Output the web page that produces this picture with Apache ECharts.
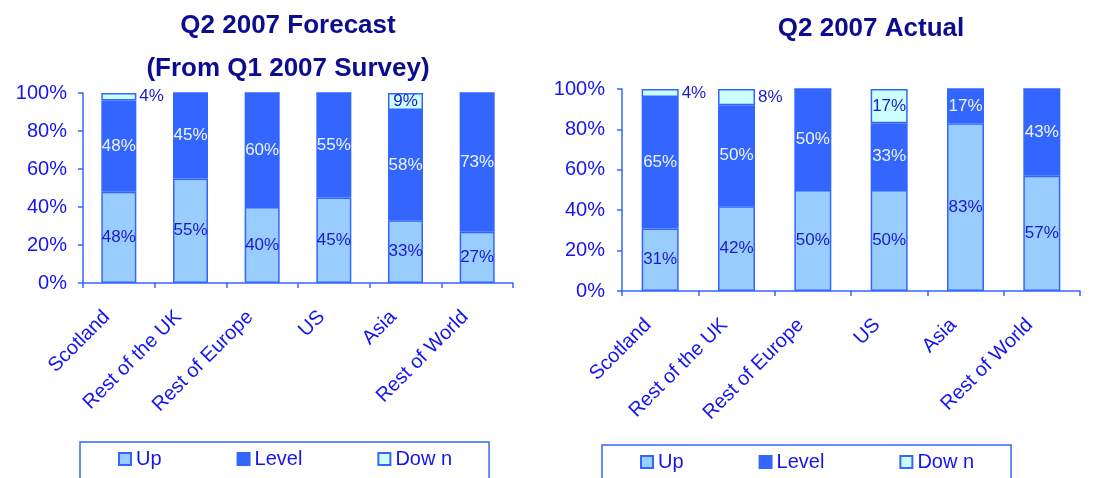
<!DOCTYPE html>
<html>
<head>
<meta charset="utf-8">
<script src="https://cdn.jsdelivr.net/npm/echarts@6/dist/echarts.min.js"></script>
<style>
  html, body { margin: 0; padding: 0; background: #ffffff; }
  #chart { width: 1101px; height: 478px; }
</style>
</head>
<body>
<div id="chart"></div>
<script>
// Regions surveyed
const categories = ['Scotland', 'Rest of the UK', 'Rest of Europe', 'US', 'Asia', 'Rest of World'];
const yTicks = [0, 20, 40, 60, 80, 100];

// Q2 2007 forecast (from the Q1 2007 survey), % of respondents
const forecastUp    = [48, 55, 40, 45, 33, 27];
const forecastLevel = [48, 45, 60, 55, 58, 73];
const forecastDown  = [4, 0, 0, 0, 9, 0];

// Q2 2007 actual outcome, % of respondents
const actualUp    = [31, 42, 50, 50, 83, 57];
const actualLevel = [65, 50, 50, 33, 17, 43];
const actualDown  = [4, 8, 0, 17, 0, 0];

const seriesNames = ['Up', 'Level', 'Dow n'];

const FONT = "'Liberation Sans', Arial, sans-serif";
const AXIS_BLUE = '#3366ff';
const TEXT_BLUE = '#1414f0';
const DARK_LABEL = '#1a1ac8';
const COLORS = { up: '#99ccff', level: '#3366ff', down: '#ccffff' };

function pct(p) { return p.value ? p.value + '%' : ''; }

function barSeries(name, values, idx, stack, color, labelColor, barWidth, outsideSmall) {
  return {
    name: name,
    type: 'bar',
    stack: stack,
    xAxisIndex: idx,
    yAxisIndex: idx,
    barWidth: barWidth,
    itemStyle: { color: color, borderColor: AXIS_BLUE, borderWidth: 1.5 },
    label: {
      show: true,
      position: 'inside',
      formatter: pct,
      color: labelColor,
      fontSize: 17,
      fontFamily: FONT
    },
    // thin slices carry their label just to the right of the bar
    data: values.map(v => (outsideSmall && v > 0 && v < 9)
      ? { value: v, label: { position: 'right', distance: 3, color: DARK_LABEL } }
      : v),
    emphasis: { disabled: true }
  };
}

function xAxis(idx) {
  return {
    type: 'category',
    gridIndex: idx,
    data: categories,
    axisLine: { lineStyle: { color: AXIS_BLUE, width: 1.5 } },
    axisTick: { show: true, length: 5, lineStyle: { color: AXIS_BLUE, width: 1.5 } },
    axisLabel: {
      interval: 0, rotate: 45, fontSize: 20, fontFamily: FONT,
      color: TEXT_BLUE, margin: 19, padding: [0, 17, 0, 0]
    }
  };
}

function yAxis(idx, margin) {
  return {
    type: 'value',
    gridIndex: idx,
    min: yTicks[0],
    max: yTicks[yTicks.length - 1],
    interval: yTicks[1] - yTicks[0],
    axisLine: { show: true, lineStyle: { color: AXIS_BLUE, width: 1.5 } },
    axisTick: { show: true, length: 5, lineStyle: { color: AXIS_BLUE, width: 1.5 } },
    splitLine: { show: false },
    axisLabel: {
      formatter: '{value}%', fontSize: 20, fontFamily: FONT,
      color: TEXT_BLUE, margin: margin
    }
  };
}

function legend(left, top) {
  return {
    data: seriesNames,
    left: left,
    top: top,
    orient: 'horizontal',
    icon: 'rect',
    itemWidth: 12,
    itemHeight: 12,
    itemGap: 75,
    padding: [7, 37, 24, 38],
    borderColor: AXIS_BLUE,
    borderWidth: 1.5,
    textStyle: { fontSize: 20, fontFamily: FONT, color: TEXT_BLUE },
    selectedMode: false
  };
}

const chart = echarts.init(document.getElementById('chart'), null, { renderer: 'canvas' });

chart.setOption({
  animation: false,
  backgroundColor: '#ffffff',
  title: [
    {
      text: 'Q2 2007 Forecast\n(From Q1 2007 Survey)',
      left: 283, top: -1, textAlign: 'center',
      textStyle: { fontSize: 26, fontWeight: 'bold', fontFamily: FONT, color: '#0c0c90', lineHeight: 43 }
    },
    {
      text: 'Q2 2007 Actual',
      left: 866, top: 11, textAlign: 'center',
      textStyle: { fontSize: 26, fontWeight: 'bold', fontFamily: FONT, color: '#0c0c90' }
    }
  ],
  legend: [legend(80, 442), legend(602, 445)],
  grid: [
    { left: 83, top: 93, width: 430, height: 190 },
    { left: 622, top: 89, width: 458, height: 202 }
  ],
  xAxis: [xAxis(0), xAxis(1)],
  yAxis: [yAxis(0, 16), yAxis(1, 17)],
  series: [
    barSeries('Up', forecastUp, 0, 'forecast', COLORS.up, DARK_LABEL, 35, false),
    barSeries('Level', forecastLevel, 0, 'forecast', COLORS.level, '#eef4ff', 35, false),
    barSeries('Dow n', forecastDown, 0, 'forecast', COLORS.down, DARK_LABEL, 35, true),
    barSeries('Up', actualUp, 1, 'actual', COLORS.up, DARK_LABEL, 37, false),
    barSeries('Level', actualLevel, 1, 'actual', COLORS.level, '#eef4ff', 37, false),
    barSeries('Dow n', actualDown, 1, 'actual', COLORS.down, DARK_LABEL, 37, true)
  ]
});
</script>
</body>
</html>
